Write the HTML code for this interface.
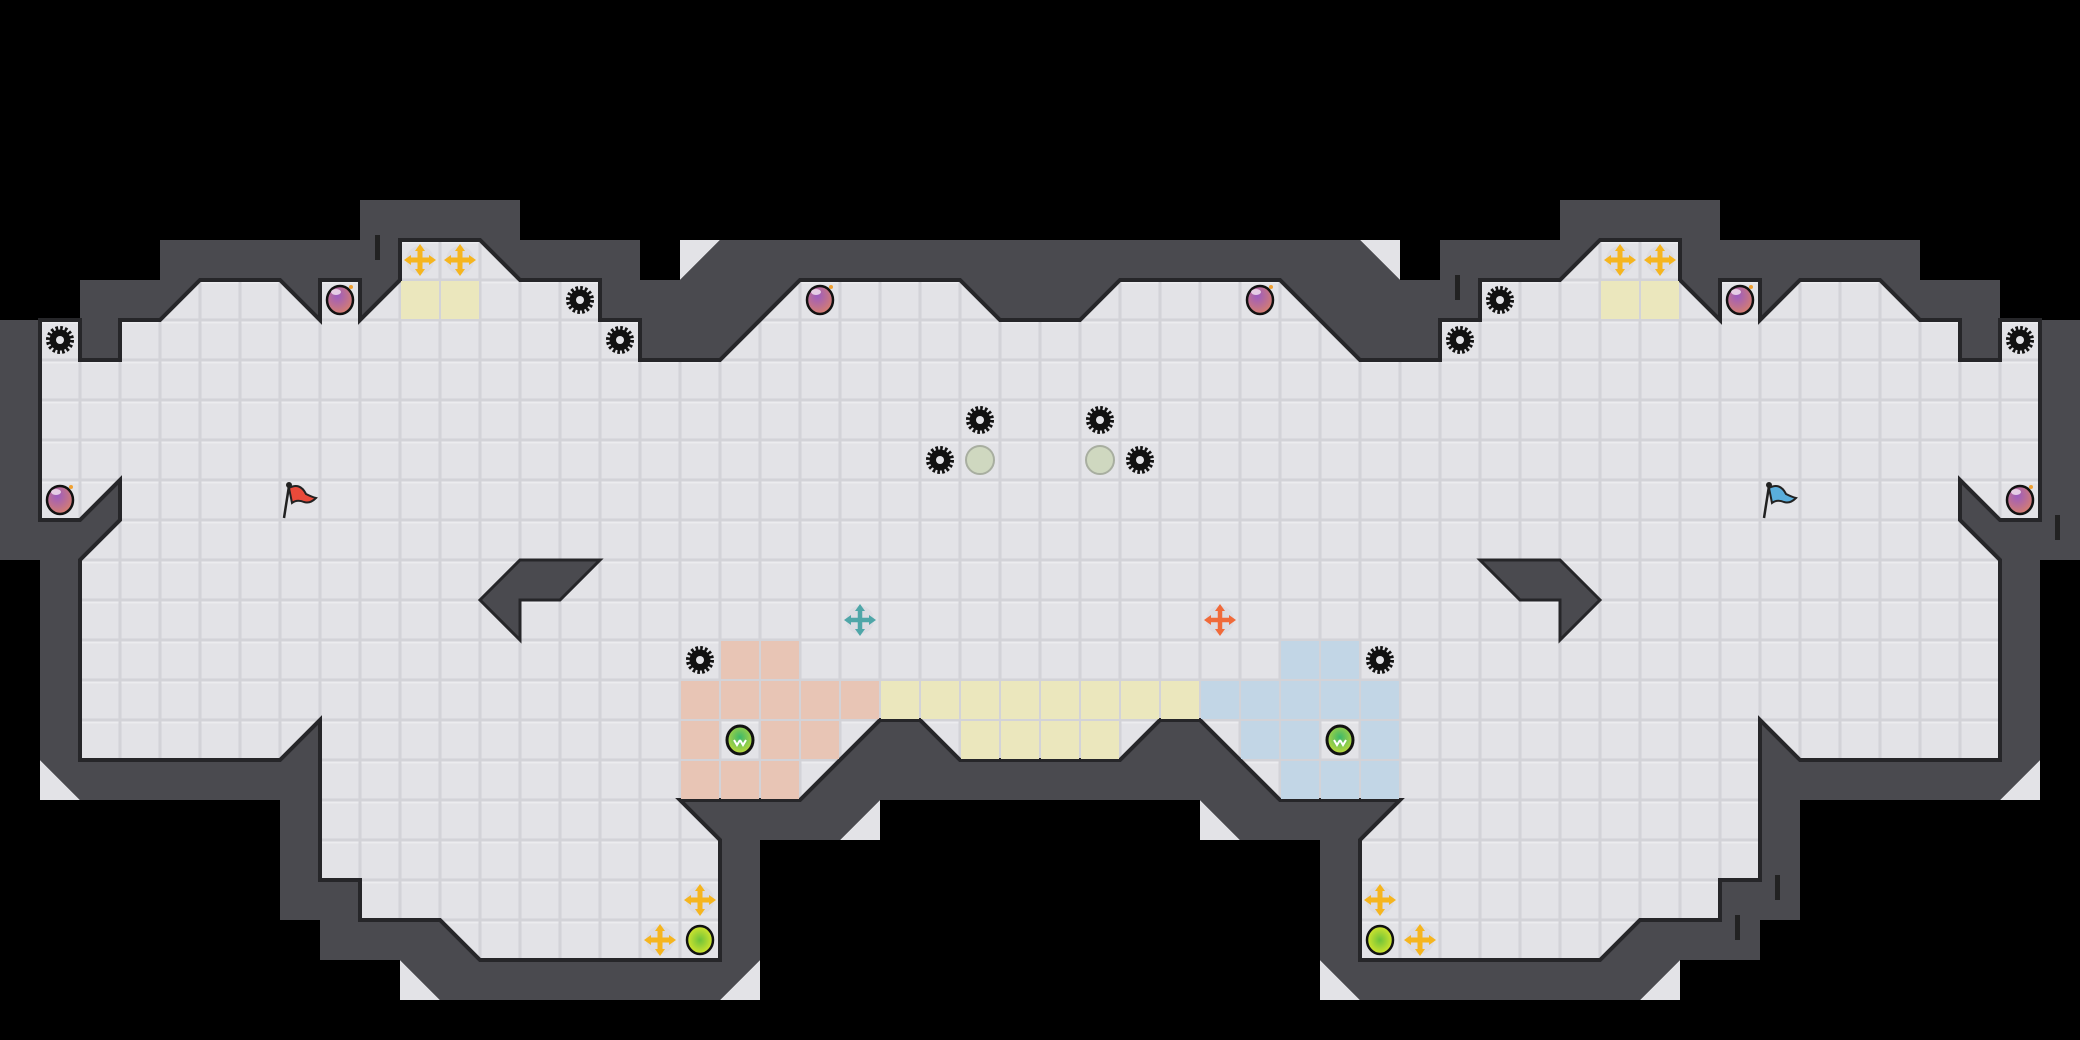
<!DOCTYPE html>
<html><head><meta charset="utf-8"><style>
html,body{margin:0;padding:0;background:#000;width:2080px;height:1040px;overflow:hidden}
svg{display:block}
</style></head><body>
<svg width="2080" height="1040" viewBox="0 0 2080 1040" xmlns="http://www.w3.org/2000/svg">
<defs>
<pattern id="tile" width="40" height="40" patternUnits="userSpaceOnUse" patternTransform="scale(0.025)">
<rect width="40" height="40" fill="#d3d3d8"/>
<rect x="1.5" y="1.5" width="37" height="37" fill="#e3e3e7"/>
<rect x="1.5" y="1.5" width="37" height="2" fill="#ececef"/>
</pattern>
<radialGradient id="purp" cx="0.4" cy="0.35" r="0.7"><stop offset="0" stop-color="#9c5cc0"/><stop offset="1" stop-color="#d9806a"/></radialGradient>
<radialGradient id="grn" cx="0.5" cy="0.4" r="0.7"><stop offset="0" stop-color="#3db86a"/><stop offset="1" stop-color="#d8e030"/></radialGradient>
<radialGradient id="ylw" cx="0.5" cy="0.5" r="0.6"><stop offset="0" stop-color="#6ec23a"/><stop offset="1" stop-color="#e8ec2a"/></radialGradient>
<g id="gear">
<circle r="10.5" fill="#111"/>
<circle r="12" fill="none" stroke="#111" stroke-width="4" stroke-dasharray="2.6 2.1"/>
<circle r="4" fill="#e3e3e7"/>
</g>
<g id="orb">
<ellipse rx="13" ry="14" fill="url(#purp)" stroke="#111" stroke-width="2.5"/>
<ellipse cx="-4" cy="-8" rx="5" ry="3" fill="#f4e6f4" opacity="0.8"/>
<circle cx="11" cy="-13" r="2" fill="#f0a030"/>
</g>
<g id="ycross">
<circle r="14" fill="#dcdce2"/>
<g stroke="#f5b51e" stroke-width="5" stroke-linecap="round"><line x1="-11" y1="0" x2="11" y2="0"/><line x1="0" y1="-11" x2="0" y2="11"/></g>
<g fill="#f5b51e"><polygon points="0,-16 -5,-9 5,-9"/><polygon points="0,16 -5,9 5,9"/><polygon points="-16,0 -9,-5 -9,5"/><polygon points="16,0 9,-5 9,5"/></g>
</g>
<g id="tcross">
<circle r="14" fill="#dcdce2"/>
<g stroke="#4fa6a8" stroke-width="4.5" stroke-linecap="round"><line x1="-11" y1="0" x2="11" y2="0"/><line x1="0" y1="-11" x2="0" y2="11"/></g>
<g fill="#4fa6a8"><polygon points="0,-16 -5,-9 5,-9"/><polygon points="0,16 -5,9 5,9"/><polygon points="-16,0 -9,-5 -9,5"/><polygon points="16,0 9,-5 9,5"/></g>
</g>
<g id="ocross">
<circle r="14" fill="#dcdce2"/>
<g stroke="#f06a3a" stroke-width="4.5" stroke-linecap="round"><line x1="-11" y1="0" x2="11" y2="0"/><line x1="0" y1="-11" x2="0" y2="11"/></g>
<g fill="#f06a3a"><polygon points="0,-16 -5,-9 5,-9"/><polygon points="0,16 -5,9 5,9"/><polygon points="-16,0 -9,-5 -9,5"/><polygon points="16,0 9,-5 9,5"/></g>
</g>
<g id="gorb">
<ellipse rx="13" ry="14" fill="url(#grn)" stroke="#111" stroke-width="3"/>
<path d="M-6,0 l3,5 l3,-5 M0,0 l3,5 l3,-5" stroke="#fff" stroke-width="2" fill="none"/>
</g>
<g id="yorb">
<ellipse rx="13" ry="14" fill="url(#ylw)" stroke="#111" stroke-width="2.5"/>
</g>
<g id="disc"><circle r="14" fill="#cfd8c0" stroke="#a8aea0" stroke-width="2"/></g>
</defs>

<rect width="2080" height="1040" fill="#000"/>

<g transform="scale(40)">
<g fill="#e3e3e7">
<polygon points="17,6 18,6 17,7"/><polygon points="1,19 2,20 1,20"/><polygon points="10,24 11,25 10,25"/><polygon points="19,24 19,25 18,25"/><polygon points="22,20 22,21 21,21"/>
<polygon points="35,6 34,6 35,7"/><polygon points="51,19 50,20 51,20"/><polygon points="42,24 41,25 42,25"/><polygon points="33,24 33,25 34,25"/><polygon points="30,20 30,21 31,21"/>
</g>
<polygon fill="#4a4a4f" points="0,8 2,8 2,7 4,7 4,6 9,6 9,5 13,5 13,6 16,6 16,7 17,7 18,6 34,6 35,7 36,7 36,6 39,6 39,5 43,5 43,6 48,6 48,7 50,7 50,8 52,8 52,14 51,14 51,19 50,20 45,20 45,23 44,23 44,24 42,24 41,25 34,25 33,24 33,21 31,21 30,20 22,20 21,21 19,21 19,24 18,25 11,25 10,24 8,24 8,23 7,23 7,20 2,20 1,19 1,14 0,14"/>
<polygon fill="url(#tile)" stroke="#262629" stroke-width="4" vector-effect="non-scaling-stroke" points="1,8 2,8 2,9 3,9 3,8 4,8 5,7 7,7 8,8 8,7 9,7 9,8 10,7 10,6 12,6 13,7 15,7 15,8 16,8 16,9 18,9 20,7 24,7 25,8 27,8 28,7 32,7 34,9 36,9 36,8 37,8 37,7 39,7 40,6 42,6 42,7 43,8 43,7 44,7 44,8 45,7 47,7 48,8 49,8 49,9 50,9 50,8 51,8 51,13 50,13 49,12 49,13 50,14 50,19 45,19 44,18 44,22 43,22 43,23 41,23 40,24 34,24 34,21 35,20 32,20 30,18 29,18 28,19 24,19 23,18 22,18 20,20 17,20 18,21 18,24 12,24 11,23 9,23 9,22 8,22 8,18 7,19 2,19 2,14 3,13 3,12 2,13 1,13"/>
<polygon fill="#4a4a4f" stroke="#262629" stroke-width="3" vector-effect="non-scaling-stroke" points="13,14 15,14 14,15 13,15 13,16 12,15"/>
<polygon fill="#4a4a4f" stroke="#262629" stroke-width="3" vector-effect="non-scaling-stroke" points="39,14 37,14 38,15 39,15 39,16 40,15"/>
</g>
<g stroke="none">
<g fill="#ebe7bd">
<rect x="401" y="281" width="38" height="38"/><rect x="441" y="281" width="38" height="38"/>
<rect x="1601" y="281" width="38" height="38"/><rect x="1641" y="281" width="38" height="38"/>
<rect x="881" y="681" width="38" height="38"/><rect x="921" y="681" width="38" height="38"/><rect x="961" y="681" width="38" height="38"/><rect x="1001" y="681" width="38" height="38"/><rect x="1041" y="681" width="38" height="38"/><rect x="1081" y="681" width="38" height="38"/><rect x="1121" y="681" width="38" height="38"/><rect x="1161" y="681" width="38" height="38"/>
<rect x="961" y="721" width="38" height="38"/><rect x="1001" y="721" width="38" height="38"/><rect x="1041" y="721" width="38" height="38"/><rect x="1081" y="721" width="38" height="38"/>
</g>
<g fill="#e8c5b5">
<rect x="721" y="641" width="38" height="38"/><rect x="761" y="641" width="38" height="38"/>
<rect x="681" y="681" width="38" height="38"/><rect x="721" y="681" width="38" height="38"/><rect x="761" y="681" width="38" height="38"/><rect x="801" y="681" width="38" height="38"/><rect x="841" y="681" width="38" height="38"/>
<rect x="681" y="721" width="38" height="38"/><rect x="761" y="721" width="38" height="38"/><rect x="801" y="721" width="38" height="38"/>
<rect x="681" y="761" width="38" height="38"/><rect x="721" y="761" width="38" height="38"/><rect x="761" y="761" width="38" height="38"/>
</g>
<g fill="#c2d6e6">
<rect x="1281" y="641" width="38" height="38"/><rect x="1321" y="641" width="38" height="38"/>
<rect x="1201" y="681" width="38" height="38"/><rect x="1241" y="681" width="38" height="38"/><rect x="1281" y="681" width="38" height="38"/><rect x="1321" y="681" width="38" height="38"/><rect x="1361" y="681" width="38" height="38"/>
<rect x="1241" y="721" width="38" height="38"/><rect x="1281" y="721" width="38" height="38"/><rect x="1361" y="721" width="38" height="38"/>
<rect x="1281" y="761" width="38" height="38"/><rect x="1321" y="761" width="38" height="38"/><rect x="1361" y="761" width="38" height="38"/>
</g>
</g>
<g fill="#222"><rect x="375" y="235" width="5" height="25"/><rect x="1455" y="275" width="5" height="25"/><rect x="2055" y="515" width="5" height="25"/><rect x="1775" y="875" width="5" height="25"/><rect x="1735" y="915" width="5" height="25"/></g>

<use href="#gear" x="60" y="340"/><use href="#gear" x="580" y="300"/><use href="#gear" x="620" y="340"/>
<use href="#gear" x="980" y="420"/><use href="#gear" x="940" y="460"/><use href="#gear" x="1100" y="420"/><use href="#gear" x="1140" y="460"/>
<use href="#gear" x="1500" y="300"/><use href="#gear" x="1460" y="340"/><use href="#gear" x="2020" y="340"/>
<use href="#gear" x="700" y="660"/><use href="#gear" x="1380" y="660"/>
<use href="#disc" x="980" y="460"/><use href="#disc" x="1100" y="460"/>
<use href="#orb" x="340" y="300"/><use href="#orb" x="60" y="500"/><use href="#orb" x="820" y="300"/>
<use href="#orb" x="1260" y="300"/><use href="#orb" x="1740" y="300"/><use href="#orb" x="2020" y="500"/>
<use href="#ycross" x="420" y="260"/><use href="#ycross" x="460" y="260"/><use href="#ycross" x="1620" y="260"/><use href="#ycross" x="1660" y="260"/>
<use href="#ycross" x="700" y="900"/><use href="#ycross" x="660" y="940"/><use href="#ycross" x="1380" y="900"/><use href="#ycross" x="1420" y="940"/>
<use href="#yorb" x="700" y="940"/><use href="#yorb" x="1380" y="940"/>
<use href="#tcross" x="860" y="620"/><use href="#ocross" x="1220" y="620"/>
<use href="#gorb" x="740" y="740"/><use href="#gorb" x="1340" y="740"/>
<g transform="translate(300,500)">
<line x1="-16" y1="18" x2="-11" y2="-14" stroke="#222" stroke-width="2.5"/><circle cx="-11" cy="-15" r="3" fill="#222"/>
<path d="M-11,-12 Q0,-18 6,-6 Q12,-3 16,-2 Q10,4 4,2 Q-3,-1 -8,3 Z" fill="#e84a3a" stroke="#222" stroke-width="2"/>
</g>
<g transform="translate(1780,500)">
<line x1="-16" y1="18" x2="-11" y2="-14" stroke="#222" stroke-width="2.5"/><circle cx="-11" cy="-15" r="3" fill="#222"/>
<path d="M-11,-12 Q0,-18 6,-6 Q12,-3 16,-2 Q10,4 4,2 Q-3,-1 -8,3 Z" fill="#5aaedc" stroke="#222" stroke-width="2"/>
</g>
</svg>
</body></html>
